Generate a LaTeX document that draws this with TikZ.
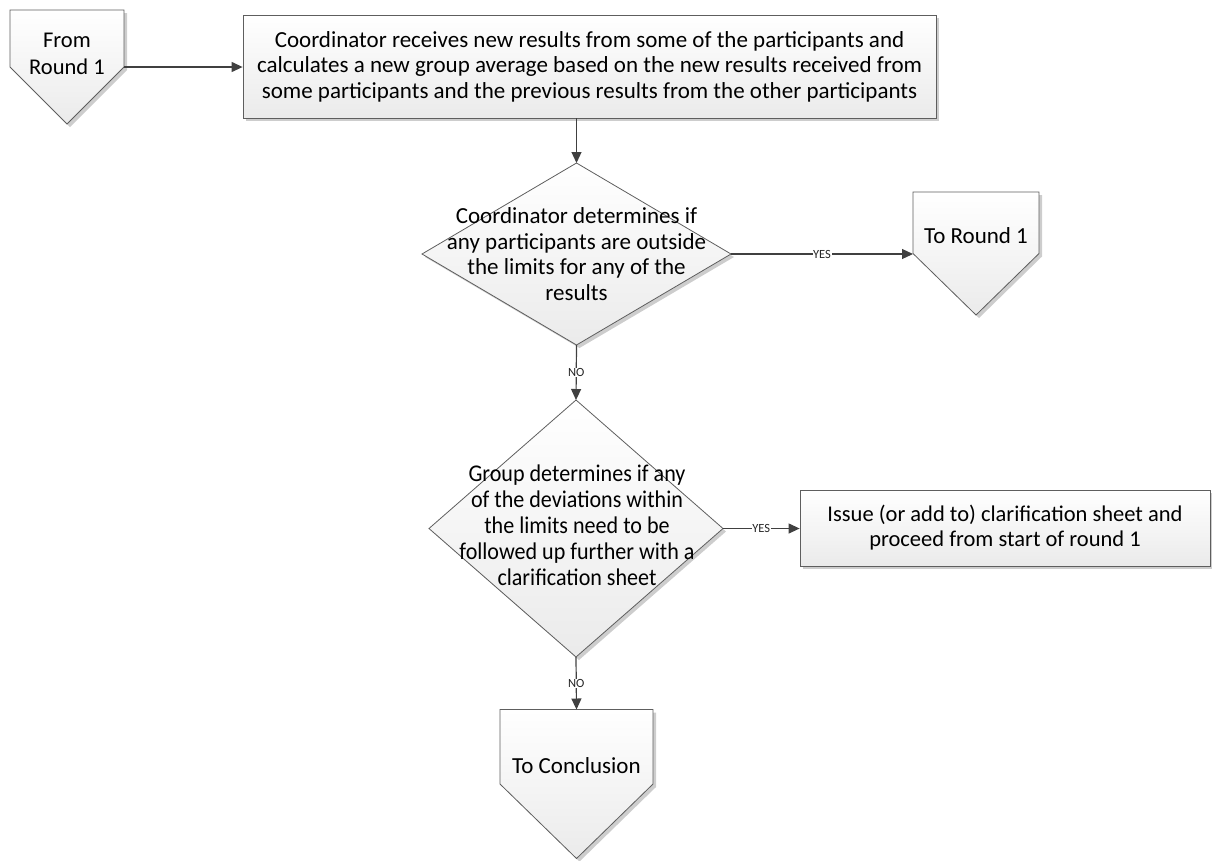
\documentclass[tikz,border=0pt]{standalone}
\usepackage{fontspec}
\setmainfont{Carlito}
\newfontfamily\narrowfont[FakeStretch=0.92]{Carlito}
\usetikzlibrary{arrows.meta,shadows,backgrounds}
\definecolor{linec}{HTML}{404040}
\definecolor{edgec}{HTML}{5E5E5E}
\begin{document}
\begin{tikzpicture}[x=1pt,y=-1pt,
  shapefill/.style={draw=edgec, line width=0.8pt, top color=white, bottom color=black!8,
     drop shadow={shadow xshift=3pt, shadow yshift=-3pt, opacity=0.28, fill=black!70}},
  boxnode/.style={shapefill, align=center, inner sep=0pt, font=\fontsize{23}{25.5}\selectfont},
  frame/.style={inner sep=0pt, outer sep=0pt},
  txt/.style={align=center, inner sep=0pt, font=\fontsize{23}{25.5}\selectfont},
  ntxt/.style={align=center, inner sep=0pt, font=\narrowfont\fontsize{24}{26}\selectfont},
  conn/.style={draw=linec, line width=1.2pt, -{Triangle[length=11pt,width=10pt]}},
  lab/.style={fill=white, inner sep=0.6pt, text=black!85, font=\fontsize{12.5}{13}\selectfont}]
\useasboundingbox (0,0) rectangle (1212,860);

% nodes
\node[frame, minimum width=114pt, minimum height=114pt] (from) at (67,67) {};
\node[txt, font=\fontsize{22.5}{27}\selectfont] (fromt) at (67,54) {From\\Round 1};

\node[boxnode, minimum width=693pt, minimum height=103pt] (b1) at (589.5,66.5)
  {Coordinator receives new results from some of the participants and\\
   calculates a new group average based on the new results received from\\
   some participants and the previous results from the other participants};

\node[frame, minimum width=309pt, minimum height=182pt] (d1) at (576.5,254) {};
\node[txt] (d1t) at (576.5,254) {Coordinator determines if\\any participants are outside\\the limits for any of the\\results};

\node[frame, minimum width=126pt, minimum height=123pt] (tr) at (976,253.5) {};
\node[txt] (trt) at (976,236) {To Round 1};

\node[frame, minimum width=294pt, minimum height=257pt] (d2) at (576,528.5) {};
\node[ntxt] (d2t) at (577,525) {Group determines if any\\of the deviations within\\the limits need to be\\followed up further with a\\clarification sheet};

\node[boxnode, minimum width=410pt, minimum height=76pt, font=\fontsize{22.5}{25}\selectfont] (b2) at (1005,528)
  {Issue (or add to) clarification sheet and\\proceed from start of round 1};

\node[frame, minimum width=153pt, minimum height=149pt] (tc) at (576.5,784) {};
\node[txt] (tct) at (576.5,766) {To Conclusion};

% shapes behind text
\begin{pgfonlayer}{background}
\path[shapefill] (from.north west) -- (from.north east) -- (from.east) -- (from.south) -- (from.west) -- cycle;
\path[shapefill] (tr.north west) -- (tr.north east) -- (tr.east) -- (tr.south) -- (tr.west) -- cycle;
\path[shapefill] (tc.north west) -- (tc.north east) -- (tc.east) -- (tc.south) -- (tc.west) -- cycle;
\path[shapefill] (d1.north) -- (d1.east) -- (d1.south) -- (d1.west) -- cycle;
\path[shapefill] (d2.north) -- (d2.east) -- (d2.south) -- (d2.west) -- cycle;
\end{pgfonlayer}

% connectors
\draw[conn] (from.east) -- (from.east -| b1.west);
\draw[conn] (b1.south -| d1.north) -- (d1.north);
\draw[conn] (d1.east) -- node[lab]{YES} (d1.east -| tr.west);
\draw[conn] (d1.south) -- node[lab]{NO} (d2.north);
\draw[conn] (d2.east) -- node[lab]{YES} (d2.east -| b2.west);
\draw[conn] (d2.south) -- node[lab]{NO} (tc.north);
\end{tikzpicture}
\end{document}
